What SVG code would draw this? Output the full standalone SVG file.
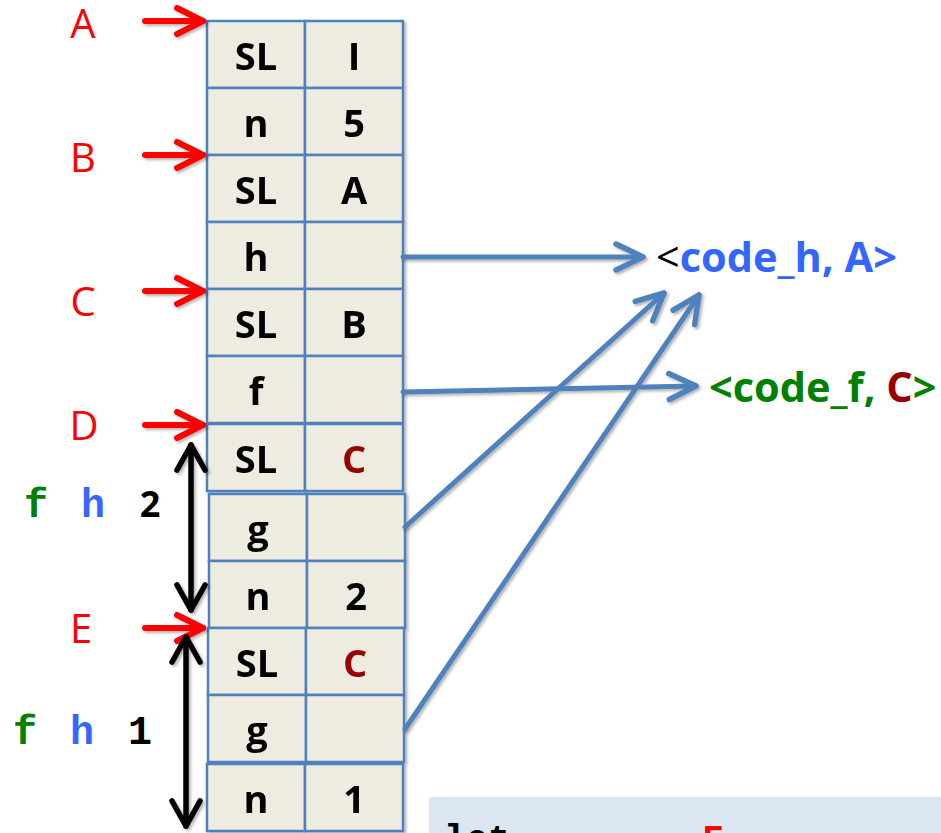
<svg xmlns="http://www.w3.org/2000/svg" width="941" height="833" viewBox="0 0 941 833">
  <style>
    .cell { fill: #eeece1; stroke: #4f81bd; stroke-width: 2.5; }
    .ct { font-family: "Open Sans", "Liberation Sans", sans-serif; font-weight: bold; font-size: 38px; text-anchor: middle; fill: #000000; }
    .dark { fill: #990000; }
    .ptr { font-family: "Open Sans", "Liberation Sans", sans-serif; font-size: 40px; fill: #ff0000; text-anchor: middle; }
    .mono { font-family: "Liberation Mono", "DejaVu Sans Mono", monospace; font-weight: bold; font-size: 40px; text-anchor: middle; }
    .lbl { font-family: "Open Sans", "Liberation Sans", sans-serif; font-weight: bold; font-size: 41.5px; }
    .code { font-family: "Liberation Mono", "DejaVu Sans Mono", monospace; font-weight: bold; font-size: 36px; text-anchor: middle; }
    .blue { stroke: #4f81bd; stroke-width: 5; fill: none; stroke-linecap: round; }
    .red { stroke: #ff0000; stroke-width: 6; fill: none; stroke-linecap: round; }
    .blk { stroke: #000000; stroke-width: 5.5; fill: none; stroke-linecap: round; }
  </style>
  <defs>
    <filter id="shadow" x="-10%" y="-10%" width="130%" height="130%">
      <feDropShadow dx="2" dy="2" stdDeviation="1.8" flood-color="#000000" flood-opacity="0.3"/>
    </filter>
    <marker id="headBlue" markerUnits="userSpaceOnUse" viewBox="-34 -20 40 40" markerWidth="40" markerHeight="40" refX="0" refY="0" orient="auto">
      <path d="M-27,-13 L0,0 L-27,13" fill="none" stroke="#4f81bd" stroke-width="5.5" stroke-linecap="round" stroke-linejoin="round"/>
    </marker>
    <marker id="headRed" markerUnits="userSpaceOnUse" viewBox="-34 -20 40 40" markerWidth="40" markerHeight="40" refX="0" refY="0" orient="auto">
      <path d="M-26,-13 L0,0 L-26,13" fill="none" stroke="#ff0000" stroke-width="6" stroke-linecap="round" stroke-linejoin="round"/>
    </marker>
    <marker id="headBlack" markerUnits="userSpaceOnUse" viewBox="-34 -20 40 40" markerWidth="40" markerHeight="40" refX="0" refY="0" orient="auto-start-reverse">
      <path d="M-25,-14 L0,0 L-25,14" fill="none" stroke="#000000" stroke-width="5.5" stroke-linecap="round" stroke-linejoin="round"/>
    </marker>
  </defs>

  <rect width="941" height="833" fill="#ffffff"/>

  <!-- stack frames -->
  <g id="stack" filter="url(#shadow)">
    <g id="row1"><rect class="cell" x="207" y="21" width="98" height="67"/><rect class="cell" x="305" y="21" width="98" height="67"/>
      <text class="ct" x="256" y="70">SL</text><text class="ct" x="354" y="70">I</text></g>
    <g id="row2"><rect class="cell" x="207" y="88" width="98" height="67"/><rect class="cell" x="305" y="88" width="98" height="67"/>
      <text class="ct" x="256" y="137">n</text><text class="ct" x="354" y="137">5</text></g>
    <g id="row3"><rect class="cell" x="207" y="155" width="98" height="67"/><rect class="cell" x="305" y="155" width="98" height="67"/>
      <text class="ct" x="256" y="204">SL</text><text class="ct" x="354" y="204">A</text></g>
    <g id="row4"><rect class="cell" x="207" y="222" width="98" height="67"/><rect class="cell" x="305" y="222" width="98" height="67"/>
      <text class="ct" x="256" y="271">h</text></g>
    <g id="row5"><rect class="cell" x="207" y="289" width="98" height="67"/><rect class="cell" x="305" y="289" width="98" height="67"/>
      <text class="ct" x="256" y="338">SL</text><text class="ct" x="354" y="338">B</text></g>
    <g id="row6"><rect class="cell" x="207" y="356" width="98" height="67"/><rect class="cell" x="305" y="356" width="98" height="67"/>
      <text class="ct" x="256" y="405">f</text></g>
    <g id="row7"><rect class="cell" x="207" y="424" width="98" height="67"/><rect class="cell" x="305" y="424" width="98" height="67"/>
      <text class="ct" x="256" y="473">SL</text><text class="ct dark" x="354" y="473">C</text></g>
    <g id="row8"><rect class="cell" x="209" y="494" width="98" height="67"/><rect class="cell" x="307" y="494" width="98" height="67"/>
      <text class="ct" x="258" y="543">g</text></g>
    <g id="row9"><rect class="cell" x="209" y="561" width="98" height="67"/><rect class="cell" x="307" y="561" width="98" height="67"/>
      <text class="ct" x="258" y="610">n</text><text class="ct" x="356" y="610">2</text></g>
    <g id="row10"><rect class="cell" x="208" y="628" width="98" height="67"/><rect class="cell" x="306" y="628" width="98" height="67"/>
      <text class="ct" x="257" y="677">SL</text><text class="ct dark" x="355" y="677">C</text></g>
    <g id="row11"><rect class="cell" x="208" y="695" width="98" height="67"/><rect class="cell" x="306" y="695" width="98" height="67"/>
      <text class="ct" x="257" y="744">g</text></g>
    <g id="row12"><rect class="cell" x="207" y="764" width="98" height="67"/><rect class="cell" x="305" y="764" width="98" height="67"/>
      <text class="ct" x="256" y="813">n</text><text class="ct" x="354" y="813">1</text></g>
  </g>

  <!-- pointer labels -->
  <g id="labelA"><text class="ptr" x="83" y="38">A</text></g>
  <g id="labelB"><text class="ptr" x="83" y="172">B</text></g>
  <g id="labelC"><text class="ptr" x="83" y="316">C</text></g>
  <g id="labelD"><text class="ptr" x="84" y="440">D</text></g>
  <g id="labelE"><text class="ptr" x="81" y="643">E</text></g>

  <!-- call annotations -->
  <g id="call2">
    <text class="mono" x="36" y="517" fill="#008000">f</text>
    <text class="mono" x="93" y="517" fill="#3366ff">h</text>
    <text class="ct" x="150" y="517" style="font-size:36px">2</text>
  </g>
  <g id="call1">
    <text class="mono" x="25" y="744" fill="#008000">f</text>
    <text class="mono" x="82" y="744" fill="#3366ff">h</text>
    <text class="mono" x="140" y="744" fill="#000000">1</text>
  </g>

  <!-- closures -->
  <g id="closureH">
    <text class="lbl" x="656" y="272"><tspan fill="#000000" font-weight="normal">&lt;</tspan><tspan fill="#3366ff">code_h, A&gt;</tspan></text>
  </g>
  <g id="closureF">
    <text class="lbl" x="709" y="402" fill="#008000">&lt;code_f, <tspan fill="#990000">C</tspan>&gt;</text>
  </g>

  <!-- code box -->
  <g id="codebox">
    <rect x="429" y="797" width="520" height="50" fill="#dce6f2"/>
    <text class="code" x="455" y="850" fill="#000000">l</text>
    <text class="code" x="477" y="850" fill="#000000">e</text>
    <text class="code" x="499" y="850" fill="#000000">t</text>
    <text class="code" x="600" y="853" fill="#ff0000">a</text>
    <text class="code" x="713" y="850" fill="#ff0000">F</text>
  </g>

  <!-- connectors -->
  <g id="connectors" filter="url(#shadow)">
    <line class="red" x1="145" y1="21" x2="203" y2="21" marker-end="url(#headRed)"/>
    <line class="red" x1="145" y1="155" x2="203" y2="155" marker-end="url(#headRed)"/>
    <line class="red" x1="145" y1="291" x2="203" y2="291" marker-end="url(#headRed)"/>
    <line class="red" x1="145" y1="425" x2="203" y2="425" marker-end="url(#headRed)"/>
    <line class="red" x1="145" y1="628" x2="203" y2="628" marker-end="url(#headRed)"/>

    <line class="blk" x1="191" y1="445" x2="191" y2="610" marker-start="url(#headBlack)" marker-end="url(#headBlack)"/>
    <line class="blk" x1="186" y1="637" x2="186" y2="826" marker-start="url(#headBlack)" marker-end="url(#headBlack)"/>

    <line class="blue" x1="403" y1="257" x2="643" y2="257" marker-end="url(#headBlue)"/>
    <line class="blue" x1="403" y1="392" x2="696" y2="386" marker-end="url(#headBlue)"/>
    <line class="blue" x1="405" y1="527" x2="664" y2="293" marker-end="url(#headBlue)"/>
    <line class="blue" x1="405" y1="729" x2="699" y2="295" marker-end="url(#headBlue)"/>
  </g>
</svg>
